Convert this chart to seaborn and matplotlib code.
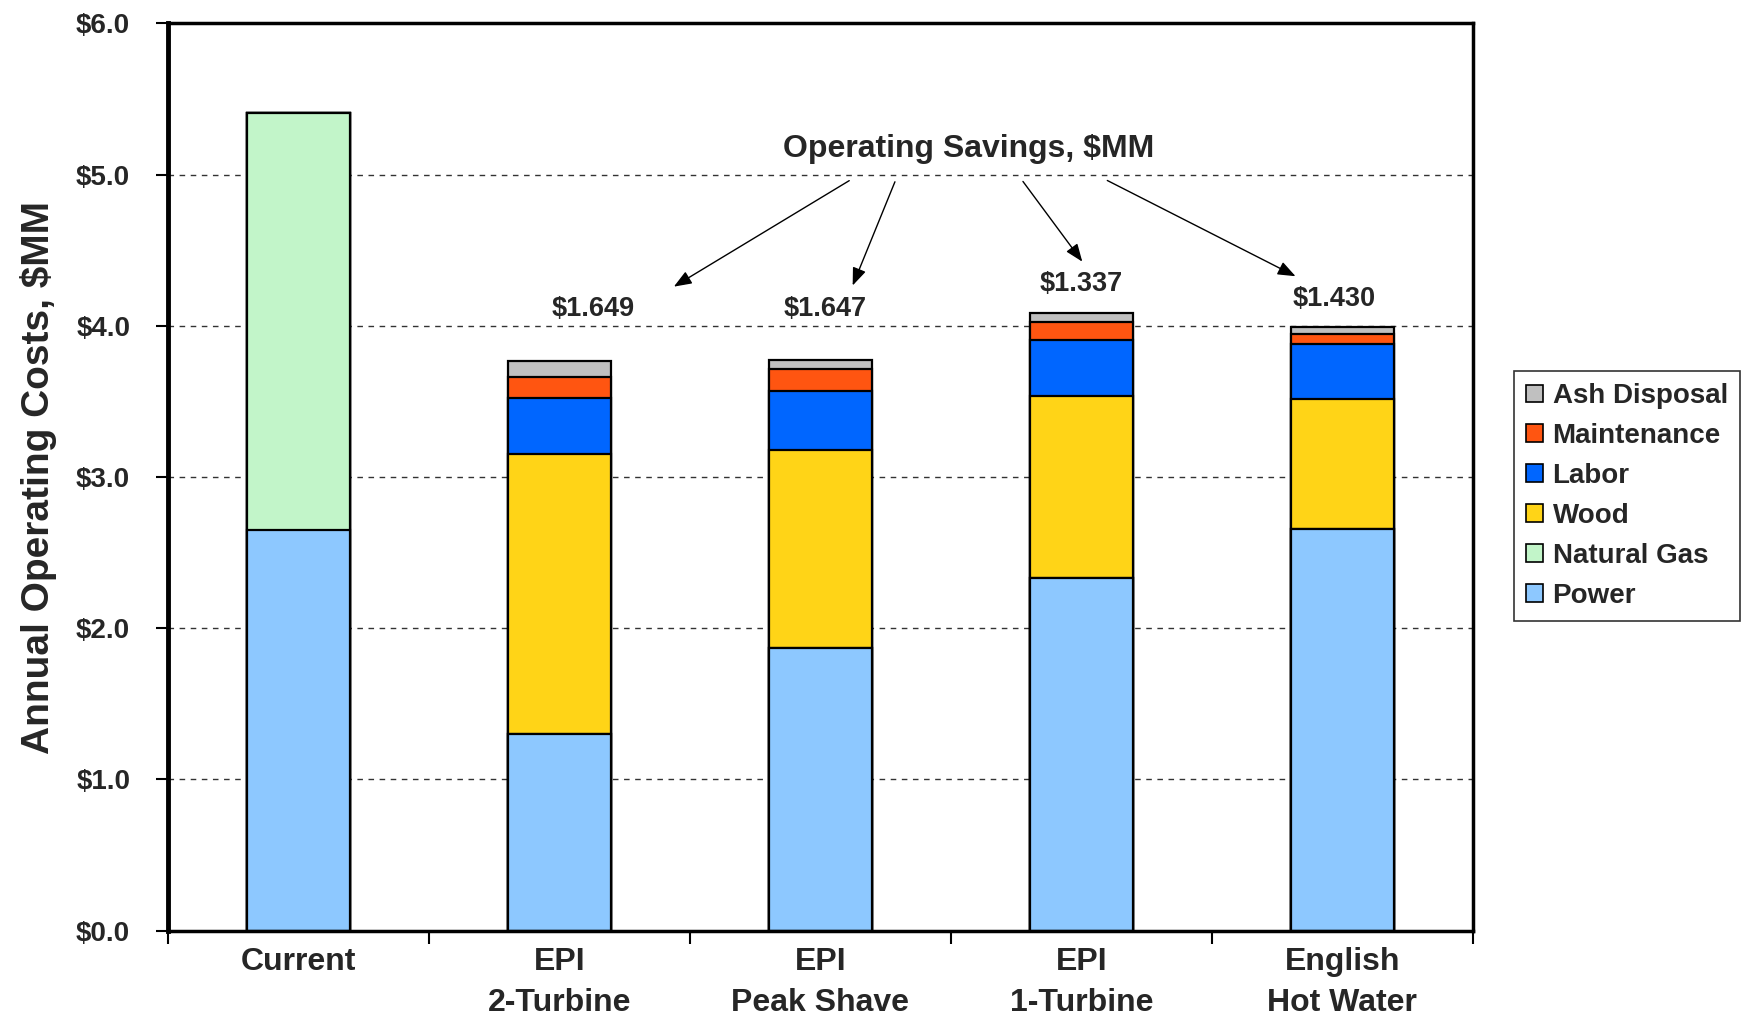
import numpy as np
import pandas as pd
import matplotlib
matplotlib.use("Agg")
import matplotlib.pyplot as plt
from matplotlib.patches import Patch
import seaborn as sns

categories = ["Current", "EPI\n2-Turbine", "EPI\nPeak Shave", "EPI\n1-Turbine", "English\nHot Water"]
power       = [2.65, 1.30, 1.87, 2.335, 2.655]
natural_gas = [2.76, 0.00, 0.00, 0.000, 0.000]
wood        = [0.00, 1.85, 1.31, 1.200, 0.860]
labor       = [0.00, 0.37, 0.39, 0.372, 0.368]
maintenance = [0.00, 0.14, 0.145, 0.117, 0.062]
ash         = [0.00, 0.105, 0.056, 0.060, 0.045]
savings_labels = ["$1.649", "$1.647", "$1.337", "$1.430"]

layers = ["Power", "Natural Gas", "Wood", "Labor", "Maintenance", "Ash Disposal"]
values = [power, natural_gas, wood, labor, maintenance, ash]
colors = {"Power": "#8DC8FF", "Natural Gas": "#C2F5C9", "Wood": "#FFD417",
          "Labor": "#0066FF", "Maintenance": "#FF5511", "Ash Disposal": "#C0C0C0"}

sns.set_theme(style="white")
plt.rcParams['font.family'] = ['Liberation Sans', 'DejaVu Sans']
plt.rcParams['font.weight'] = 'bold'

fig = plt.figure(figsize=(17.52, 10.21), dpi=100)
ax = fig.add_axes([0.0957, 0.0885, 0.745, 0.8885])

cum = np.cumsum(np.array(values), axis=0)
# draw from top layer down so lower layers overlay
for i in range(len(layers) - 1, -1, -1):
    df = pd.DataFrame({"cat": categories, "val": cum[i]})
    sns.barplot(data=df, x="cat", y="val", color=colors[layers[i]], ax=ax,
                width=0.395, edgecolor="black", linewidth=1.6, saturation=1,
                errorbar=None, order=categories)

ax.set_xlim(-0.5, 4.5)
ax.set_ylim(0, 6)
ax.set_yticks(np.arange(0, 6.01, 1.0))
ax.set_yticklabels([f"${v:.1f}" for v in np.arange(0, 6.01, 1.0)], fontsize=20, fontweight='bold')
ax.set_xticks(range(5))
ax.set_xticklabels(categories, fontsize=23, fontweight='bold', linespacing=1.45)
ax.set_xticks(np.arange(-0.5, 4.51, 1.0), minor=True)
ax.tick_params(axis='x', which='major', length=0, pad=12)
ax.tick_params(axis='x', which='minor', length=9, width=1.5, direction='out', color='black', bottom=True)
ax.tick_params(axis='y', length=9, width=1.5, direction='out', color='black', left=True, pad=18)
ax.set_xlabel("")
ax.set_ylabel("Annual Operating Costs, $MM", fontsize=28, fontweight='bold', labelpad=14)

for y in [1, 2, 3, 4, 5]:
    ax.axhline(y, color="#333333", linestyle=(0, (4, 4)), linewidth=1.0, zorder=0)
ax.set_axisbelow(True)

for s in ax.spines.values():
    s.set_color("black")
    s.set_linewidth(2.5)
ax.spines['left'].set_linewidth(3.5)

# savings annotations
label_pos = [(1.13, 4.11), (2.02, 4.11), (3.0, 4.28), (3.97, 4.18)]
for (x, y), t in zip(label_pos, savings_labels):
    ax.text(x, y, t, ha='center', va='center', fontsize=19.5, fontweight='bold')

ax.text(2.57, 5.17, "Operating Savings, $MM", ha='center', va='center', fontsize=23, fontweight='bold')
arrows = [((2.12, 4.97), (1.43, 4.25)), ((2.29, 4.97), (2.12, 4.25)),
          ((2.77, 4.97), (3.01, 4.41)), ((3.09, 4.97), (3.83, 4.32))]
for (s, e) in arrows:
    ax.annotate("", xy=e, xytext=s,
                arrowprops=dict(arrowstyle="-|>,head_length=0.9,head_width=0.35", color="black", lw=1.0))

handles = [Patch(facecolor=colors[n], edgecolor="black", linewidth=1.2, label=n) for n in layers[::-1]]
leg = fig.legend(handles=handles, loc='upper left', bbox_to_anchor=(0.864, 0.637),
                 bbox_transform=fig.transFigure, frameon=True, fancybox=False,
                 prop={'weight': 'bold', 'size': 20}, handlelength=0.6, handleheight=0.6,
                 handletextpad=0.35, labelspacing=0.5, borderpad=0.45, borderaxespad=0)
leg.get_frame().set_edgecolor("black")
leg.get_frame().set_linewidth(1.2)

fig.savefig("out.png", dpi=100)
